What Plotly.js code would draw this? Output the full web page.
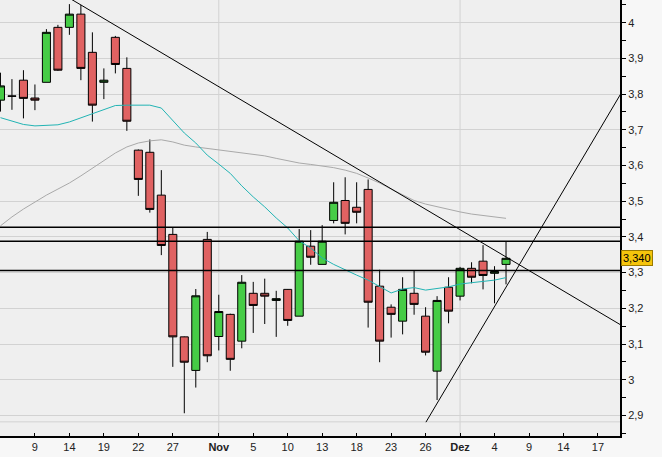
<!DOCTYPE html>
<html>
<head>
<meta charset="utf-8">
<script src="https://cdn.plot.ly/plotly-3.0.1.min.js"></script>
<style>html,body{margin:0;padding:0;background:#f7f7f7;}#chart{width:662px;height:457px;}</style>
</head>
<body>
<div id="chart"></div>
<script>
// ---- data ----
const dates = ['2009-10-06','2009-10-07','2009-10-08','2009-10-09','2009-10-12','2009-10-13','2009-10-14','2009-10-15','2009-10-16',
  '2009-10-19','2009-10-20','2009-10-21','2009-10-22','2009-10-23','2009-10-26','2009-10-27','2009-10-28','2009-10-29','2009-10-30',
  '2009-11-02','2009-11-03','2009-11-04','2009-11-05','2009-11-06','2009-11-09','2009-11-10','2009-11-11','2009-11-12','2009-11-13',
  '2009-11-16','2009-11-17','2009-11-18','2009-11-19','2009-11-20','2009-11-23','2009-11-24','2009-11-25','2009-11-26','2009-11-27',
  '2009-11-30','2009-12-01','2009-12-02','2009-12-03','2009-12-04','2009-12-07'];
const openP  = [3.783,3.795,3.839,3.789,3.833,3.987,3.987,4.024,3.917,3.833,3.959,3.872,3.643,3.637,3.517,3.407,3.120,3.026,3.393,
  3.121,3.183,3.108,3.242,3.242,3.222,3.253,3.178,3.374,3.323,3.446,3.502,3.483,3.533,3.262,3.203,3.164,3.242,3.178,3.024,
  3.259,3.234,3.312,3.332,3.298,3.323];
const highP  = [3.860,3.842,3.867,3.827,3.982,3.994,4.052,4.050,3.973,3.872,3.963,3.903,3.645,3.673,3.587,3.426,3.121,3.254,3.414,
  3.238,3.185,3.293,3.274,3.283,3.249,3.254,3.422,3.419,3.433,3.553,3.567,3.553,3.561,3.308,3.211,3.287,3.306,3.203,3.234,
  3.287,3.316,3.329,3.377,3.318,3.388];
const lowP   = [3.751,3.756,3.732,3.755,3.833,3.865,3.966,3.839,3.723,3.786,3.858,3.697,3.515,3.468,3.349,3.036,2.906,2.978,3.049,
  3.082,3.025,3.088,3.131,3.156,3.120,3.151,3.178,3.322,3.323,3.438,3.407,3.438,3.146,3.049,3.118,3.127,3.182,3.068,2.943,
  3.158,3.222,3.270,3.253,3.214,3.267];
const closeP = [3.823,3.794,3.788,3.783,3.973,3.867,4.024,3.872,3.769,3.839,3.883,3.724,3.561,3.477,3.376,3.120,3.049,3.235,3.067,
  3.191,3.057,3.273,3.208,3.234,3.227,3.166,3.388,3.343,3.388,3.497,3.438,3.469,3.217,3.108,3.183,3.253,3.211,3.077,3.222,
  3.192,3.312,3.287,3.292,3.303,3.340];
const maShort = [3.734,3.725,3.715,3.711,3.712,3.714,3.722,3.734,3.746,3.758,3.768,3.769,3.769,3.769,3.761,3.727,3.691,3.663,3.629,
  3.604,3.578,3.543,3.512,3.484,3.453,3.425,3.389,3.369,3.341,3.323,3.307,3.293,3.279,3.260,3.243,3.254,3.258,3.251,3.255,
  3.260,3.268,3.271,3.275,3.279,3.286];
const maLong = [3.431,3.456,3.478,3.498,3.517,3.534,3.551,3.571,3.593,3.615,3.635,3.652,3.663,3.669,3.672,3.666,3.657,3.652,3.648,
  3.643,3.639,3.635,3.632,3.627,3.620,3.613,3.607,3.603,3.599,3.594,3.587,3.578,3.565,3.551,3.534,3.517,3.502,3.492,3.484,
  3.477,3.470,3.464,3.460,3.456,3.452];
const tickDates  = ['2009-10-06','2009-10-09','2009-10-14','2009-10-19','2009-10-22','2009-10-27','2009-11-02','2009-11-05','2009-11-10',
  '2009-11-13','2009-11-18','2009-11-23','2009-11-26','2009-12-01','2009-12-04','2009-12-09','2009-12-14','2009-12-17'];
const tickLabels = ['6','9','14','19','22','27','<b>Nov</b>','5','10','13','18','23','26','<b>Dez</b>','4','9','14','17'];
const monthStarts = ['2009-11-02','2009-12-01'];
const levels = [3.427, 3.388, 3.306];
const downTrendX = [6.2, 56];      // trading-day positions
const downTrendY = [4.065, 3.115];
const upTrendX = [37.03, 56];
const upTrendY = [2.881, 3.910];
const lastPrice = 3.340;
const lastPriceLabel = '3,340';

// trading-day index (weekdays since first date)
function tdIndex(s){
  const d0 = new Date(dates[0]+'T00:00:00Z'), d = new Date(s+'T00:00:00Z');
  let n = 0; const c = new Date(d0);
  while (c < d){ c.setUTCDate(c.getUTCDate()+1); const w = c.getUTCDay(); if (w!==0 && w!==6) n++; }
  return n;
}
const xs = dates.map(tdIndex);

const traces = [
  {type:'scatter', mode:'lines', x:xs, y:maLong, line:{color:'#a9a9a9', width:1}, hoverinfo:'skip'},
  {type:'scatter', mode:'lines', x:xs, y:maShort, line:{color:'#22b4b4', width:1}, hoverinfo:'skip'},
  {type:'candlestick', x:xs, open:openP, high:highP, low:lowP, close:closeP,
   increasing:{line:{color:'#000', width:1}, fillcolor:'#46cc46'},
   decreasing:{line:{color:'#000', width:1}, fillcolor:'#e06262'}},
  {type:'scatter', mode:'lines', x:downTrendX, y:downTrendY, line:{color:'#000', width:1}, hoverinfo:'skip'},
  {type:'scatter', mode:'lines', x:upTrendX, y:upTrendY, line:{color:'#000', width:1}, hoverinfo:'skip'}
];

const shapes = [];
monthStarts.forEach(m => shapes.push({type:'line', xref:'x', yref:'paper', x0:tdIndex(m), x1:tdIndex(m), y0:0, y1:1,
  line:{color:'#d2d2d2', width:1}, layer:'below'}));
shapes.push({type:'line', xref:'paper', yref:'y', x0:0, x1:1, y0:2.882, y1:2.882, line:{color:'#d2d2d2', width:1}, layer:'below'});
levels.forEach(v => shapes.push({type:'line', xref:'paper', yref:'y', x0:0, x1:1, y0:v, y1:v, line:{color:'#000', width:1.4}}));

const layout = {
  width:662, height:457,
  margin:{l:0, r:42, t:0, b:21, pad:0},
  paper_bgcolor:'#f7f7f7', plot_bgcolor:'#efefef',
  showlegend:false, separators:',.',
  boxgap:0.3, boxgroupgap:0,
  font:{family:'Liberation Sans, Arial, sans-serif', size:11, color:'#222'},
  xaxis:{range:[-0.04, 53.92], showgrid:false, zeroline:false, showline:true, linecolor:'#000', linewidth:2,
    tickmode:'array', tickvals:tickDates.map(tdIndex), ticktext:tickLabels, ticks:'inside', ticklen:3, tickcolor:'#000',
    tickfont:{size:11, color:'#222'}, rangeslider:{visible:false}, fixedrange:true},
  yaxis:{side:'right', range:[2.8423, 4.0636], dtick:0.1, tick0:0, gridcolor:'#d2d2d2', gridwidth:1, zeroline:false,
    showline:true, linecolor:'#000', linewidth:2, ticks:'outside', ticklen:4, tickcolor:'#000',
    minor:{dtick:0.05, ticks:'outside', ticklen:4, tickcolor:'#000', showgrid:false},
    tickfont:{size:11, color:'#222'}, fixedrange:true},
  shapes:shapes,
  annotations:[{xref:'paper', yref:'y', x:1, y:lastPrice, xanchor:'left', yanchor:'middle', xshift:1,
    text:lastPriceLabel, showarrow:false, bgcolor:'#f5c40c', bordercolor:'#9a7a00', borderwidth:1, borderpad:1,
    font:{size:11, color:'#000'}}]
};

Plotly.newPlot('chart', traces, layout, {staticPlot:true});
</script>
</body>
</html>
